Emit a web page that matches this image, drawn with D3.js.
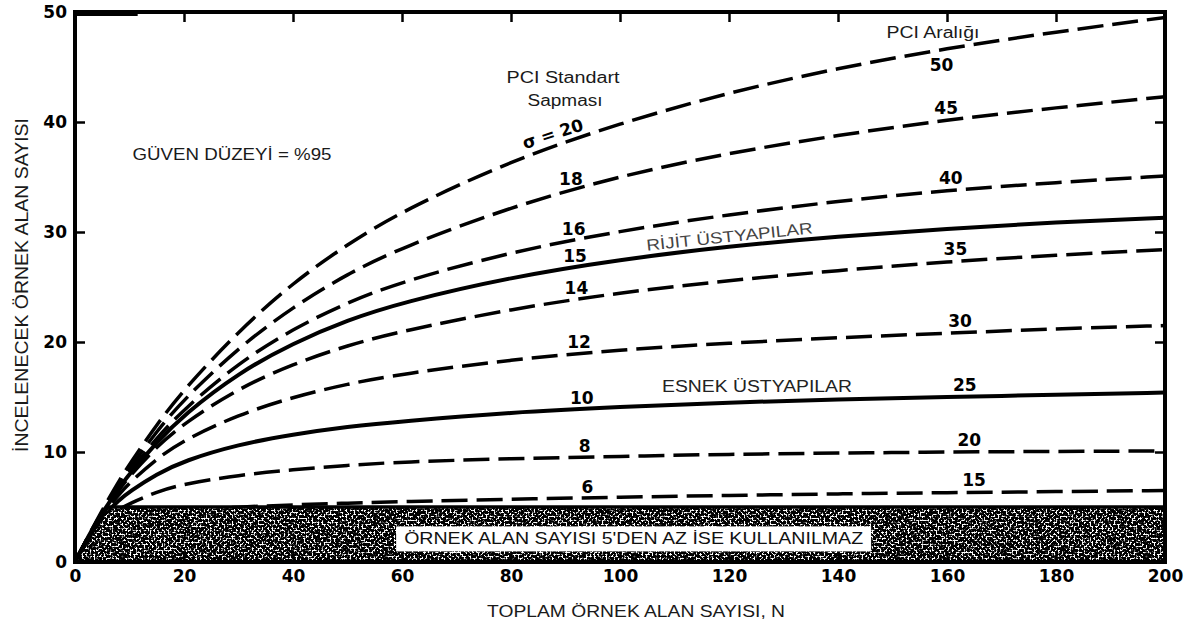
<!DOCTYPE html>
<meta charset="utf-8">
<title>Örnek alan sayısı</title>
<style>
  body { margin: 0; background: #fff; }
  text { font-family: "Liberation Sans", Arial, sans-serif; }
  .num { font-family: "DejaVu Sans", sans-serif; font-weight: bold; font-size: 17px; fill: #000; }
</style>
<div id="viz"></div>
<script src="https://cdnjs.cloudflare.com/ajax/libs/d3/7.8.5/d3.min.js"></script>
<script>

// toplam örnek alan sayısı, N
var N    = [0, 2, 4, 6, 8, 10, 15, 20, 30, 40, 50, 60, 80, 100, 120, 140, 160, 180, 200];
// incelenecek örnek alan sayısı for each PCI std deviation
var sd20 = [0, 1.9, 3.8, 5.6, 7.3, 8.9, 12.5, 15.7, 21.0, 25.4, 28.9, 31.9, 36.5, 39.9, 42.7, 44.9, 46.7, 48.2, 49.5];
var sd18 = [0, 1.9, 3.7, 5.4, 7.0, 8.5, 11.9, 14.8, 19.5, 23.2, 26.2, 28.6, 32.3, 35.1, 37.2, 38.8, 40.2, 41.3, 42.3];
var sd16 = [0, 1.9, 3.7, 5.3, 6.8, 8.2, 11.3, 13.9, 18.1, 21.2, 23.6, 25.5, 28.2, 30.1, 31.6, 32.8, 33.8, 34.5, 35.1];
var sd15 = [0, 1.9, 3.7, 5.2, 6.7, 8.0, 10.9, 13.4, 17.2, 19.9, 22.0, 23.6, 25.9, 27.5, 28.7, 29.6, 30.3, 30.9, 31.3];
var sd14 = [0, 1.9, 3.6, 5.1, 6.5, 7.8, 10.5, 12.6, 15.8, 18.0, 19.7, 21.0, 23.0, 24.5, 25.6, 26.5, 27.3, 27.9, 28.4];
var sd12 = [0, 1.9, 3.5, 4.9, 6.1, 7.2, 9.4, 11.1, 13.4, 15.0, 16.2, 17.1, 18.4, 19.3, 19.9, 20.4, 20.8, 21.2, 21.5];
var sd10 = [0, 1.9, 3.4, 4.6, 5.6, 6.4, 8.0, 9.2, 10.7, 11.6, 12.3, 12.8, 13.6, 14.1, 14.5, 14.8, 15.0, 15.2, 15.4];
var sd8  = [0, 1.8, 3.1, 4.0, 4.8, 5.3, 6.4, 7.1, 7.9, 8.4, 8.8, 9.1, 9.4, 9.6, 9.8, 9.9, 10.0, 10.05, 10.1];
var sd6  = [0, 1.7, 2.6, 3.2, 3.6, 3.9, 4.4, 4.7, 5.0, 5.2, 5.35, 5.5, 5.7, 5.9, 6.05, 6.2, 6.3, 6.4, 6.5];

var sigmas   = [20, 18, 16, 15, 14, 12, 10, 8, 6];
var pciRange = [50, 45, 40, null, 35, 30, 25, 20, 15];
var solidSigmas = [15, 10];   // rijit and esnek curves

// region where fewer than 5 samples: not usable
var shadeN = [0, 6, 200, 200];
var shadeV = [0, 5, 5, 0];

var xTicks = [0, 20, 40, 60, 80, 100, 120, 140, 160, 180, 200];
var yTicks = [0, 10, 20, 30, 40, 50];

var series = [sd20, sd18, sd16, sd15, sd14, sd12, sd10, sd8, sd6];

var width = 1200, height = 628;
var x = d3.scaleLinear().domain([0, 200]).range([75, 1165]);
var y = d3.scaleLinear().domain([0, 50]).range([562, 12]);

var svg = d3.select("#viz").append("svg")
    .attr("width", width)
    .attr("height", height);

// grainy print-like fill for the shaded band
var defs = svg.append("defs");
var f = defs.append("filter").attr("id", "stipple")
    .attr("x", 0).attr("y", 0).attr("width", 1).attr("height", 1);
f.append("feTurbulence").attr("type", "fractalNoise")
    .attr("baseFrequency", 0.5).attr("numOctaves", 3).attr("seed", 7).attr("result", "n");
f.append("feColorMatrix").attr("in", "n").attr("type", "matrix")
    .attr("values", "0 0 0 0 0  0 0 0 0 0  0 0 0 0 0  -8 0 0 0 5.0").attr("result", "a");
f.append("feComposite").attr("in", "a").attr("in2", "SourceAlpha").attr("operator", "in");

// curves
var line = d3.line()
    .x(function(d, i) { return x(N[i]); })
    .y(function(d) { return y(d); })
    .curve(d3.curveBasis);

svg.append("g").selectAll("path")
  .data(series)
  .enter().append("path")
    .attr("d", line)
    .attr("fill", "none")
    .attr("stroke", "#000")
    .attr("stroke-width", function(d, i) { return solidSigmas.indexOf(sigmas[i]) >= 0 ? 4 : 3.5; })
    .attr("stroke-dasharray", function(d, i) { return solidSigmas.indexOf(sigmas[i]) >= 0 ? null : "26,9"; });

// shaded band
var shadePts = shadeN.map(function(n, i) { return [x(n), y(shadeV[i])]; });
svg.append("path")
    .attr("d", d3.line()(shadePts) + "Z")
    .attr("fill", "#fff");
svg.append("path")
    .attr("d", d3.line()(shadePts) + "Z")
    .attr("fill", "#000")
    .attr("filter", "url(#stipple)");
svg.append("path")
    .attr("d", d3.line()(shadePts.slice(0, 3)))
    .attr("fill", "none")
    .attr("stroke", "#000")
    .attr("stroke-width", 3.5);

var note = svg.append("g");
var noteText = note.append("text")
    .attr("x", x(102.5)).attr("y", y(1.6))
    .attr("text-anchor", "middle")
    .attr("font-size", 17)
    .attr("fill", "#111")
    .attr("textLength", 459).attr("lengthAdjust", "spacingAndGlyphs")
    .text("ÖRNEK ALAN SAYISI 5'DEN AZ İSE KULLANILMAZ");
var bb = noteText.node().getBBox();
note.insert("rect", "text")
    .attr("x", bb.x - 8).attr("y", bb.y - 3)
    .attr("width", bb.width + 16).attr("height", bb.height + 6)
    .attr("fill", "#fff");

// frame and inner ticks
svg.append("rect")
    .attr("x", x(0)).attr("y", y(50))
    .attr("width", x(200) - x(0)).attr("height", y(0) - y(50))
    .attr("fill", "none").attr("stroke", "#000").attr("stroke-width", 4);
// heavier bit of the top rule at the left, as printed
svg.append("line")
    .attr("x1", x(0)).attr("x2", x(11.5)).attr("y1", y(50) + 1).attr("y2", y(50) + 1)
    .attr("stroke", "#000").attr("stroke-width", 6);

var xb = svg.append("g").attr("transform", "translate(0," + y(0) + ")")
    .call(d3.axisBottom(x).tickValues(xTicks).tickSizeInner(-10).tickSizeOuter(0).tickPadding(8));
var yl = svg.append("g").attr("transform", "translate(" + x(0) + ",0)")
    .call(d3.axisLeft(y).tickValues(yTicks).tickSizeInner(-10).tickSizeOuter(0).tickPadding(8));
var xt = svg.append("g").attr("transform", "translate(0," + y(50) + ")")
    .call(d3.axisTop(x).tickValues(xTicks).tickSizeInner(-10).tickSizeOuter(0).tickFormat(""));
var yr = svg.append("g").attr("transform", "translate(" + x(200) + ",0)")
    .call(d3.axisRight(y).tickValues(yTicks).tickSizeInner(-10).tickSizeOuter(0).tickFormat(""));

[xb, yl, xt, yr].forEach(function(g) {
  g.select(".domain").remove();
  g.selectAll(".tick line").attr("stroke", "#000").attr("stroke-width", 2.5);
  g.selectAll(".tick text").attr("class", "num").attr("font-family", null).attr("font-size", null);
});

// sigma labels on curves
var at = function(s, n) { return d3.scaleLinear().domain(N).range(s)(n); };
sigmas.forEach(function(sg, i) {
  if (sg === 20) return;
  var n = 91 + (18 - sg) * 0.25;
  svg.append("text").attr("class", "num")
      .attr("x", x(n)).attr("y", y(at(series[i], n)) - 5)
      .attr("text-anchor", "middle")
      .text(sg);
});
svg.append("text").attr("class", "num")
    .attr("transform", "translate(" + x(88) + "," + (y(at(sd20, 88)) - 6) + ") rotate(-18)")
    .attr("text-anchor", "middle")
    .text("σ = 20");

// PCI range labels
pciRange.forEach(function(r, i) {
  if (r === null) return;
  var n = 159 + (50 - r) * 0.17;
  var off = r === 50 ? 22 : -6;
  svg.append("text").attr("class", "num")
      .attr("x", x(n)).attr("y", y(at(series[i], n)) + off)
      .attr("text-anchor", "middle")
      .text(r);
});

// texts
function label(t, px, py, size, len, rot, fill) {
  var el = svg.append("text")
      .attr("text-anchor", "middle")
      .attr("font-size", size)
      .attr("fill", fill || "#1a1a1a")
      .attr("transform", "translate(" + px + "," + py + ")" + (rot ? " rotate(" + rot + ")" : ""))
      .text(t);
  if (len) el.attr("textLength", len).attr("lengthAdjust", "spacingAndGlyphs");
  return el;
}
label("GÜVEN DÜZEYİ = %95", 232, 160, 16, 199);
label("PCI Standart", 563, 83, 16, 113);
label("Sapması", 565, 106, 16, 75);
label("PCI Aralığı", 933, 38, 16, 93);
label("RİJİT ÜSTYAPILAR", 730, 242, 16, 167, -6, "#444");
label("ESNEK ÜSTYAPILAR", 757, 392, 16, 190, 0, "#222");
label("TOPLAM ÖRNEK ALAN SAYISI, N", 636, 617, 17, 298);
label("İNCELENECEK ÖRNEK ALAN SAYISI", 28, 285, 18, 334, -90);

</script>
